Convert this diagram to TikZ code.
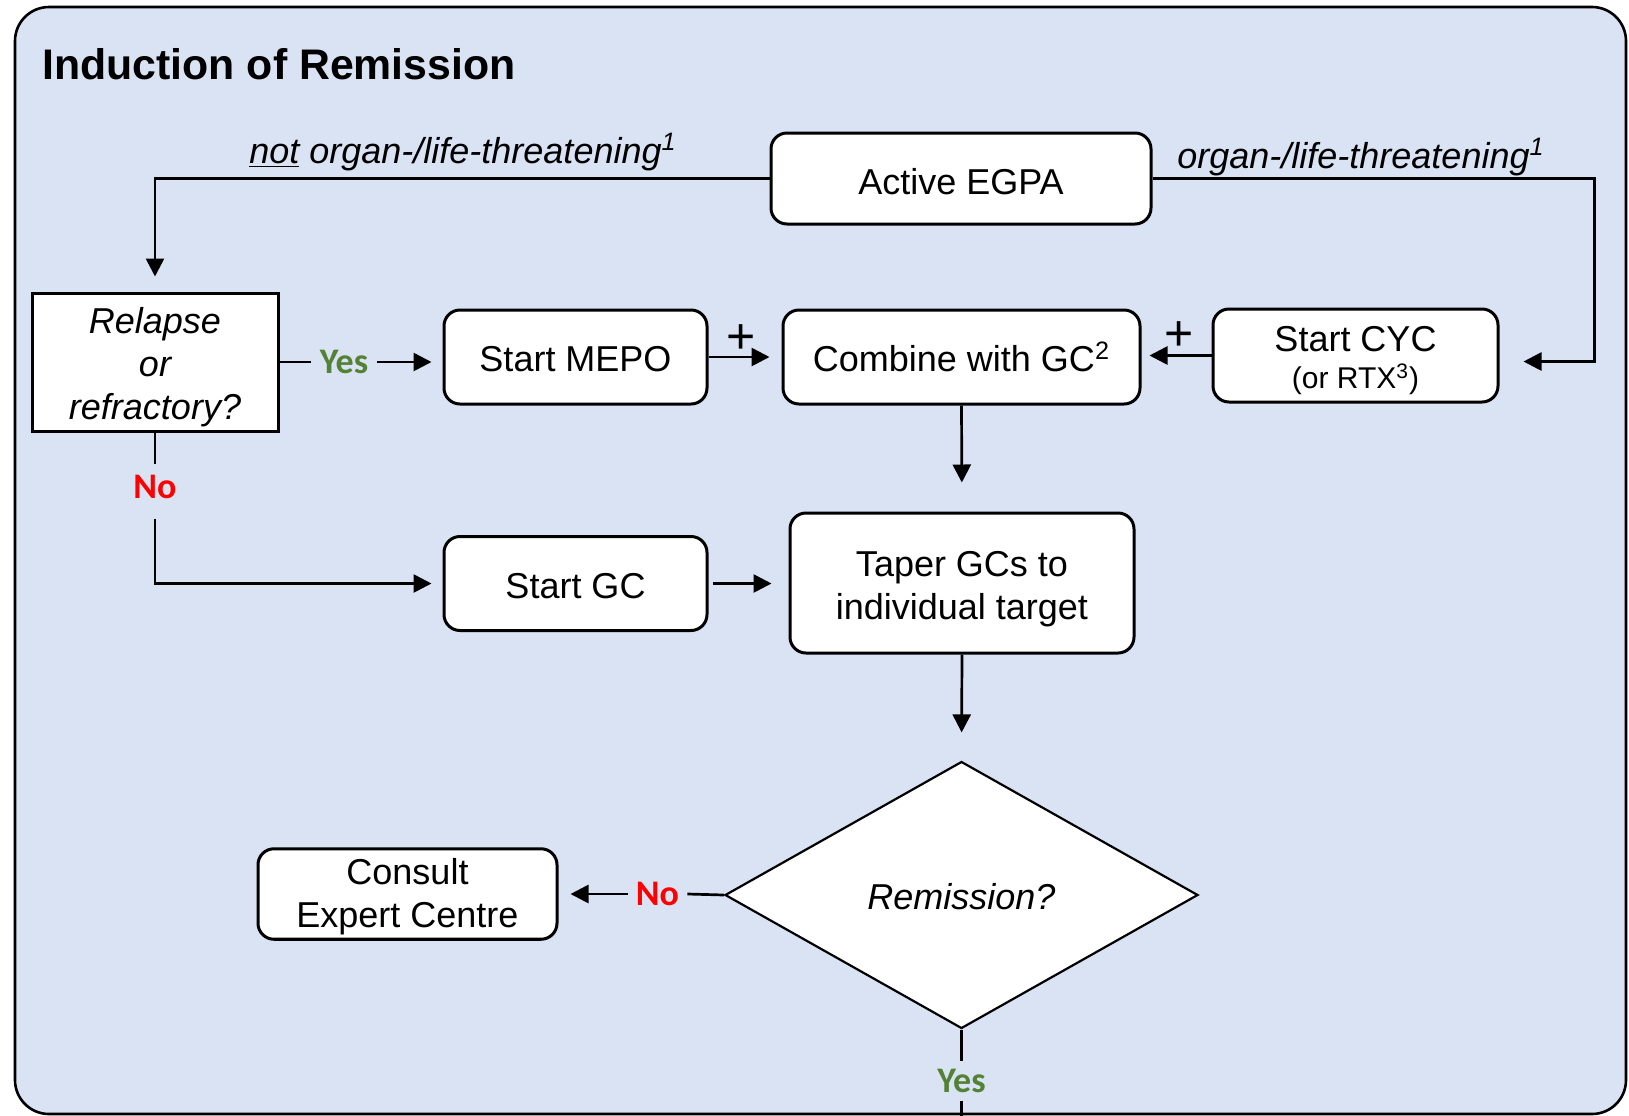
\documentclass[tikz,border=0pt]{standalone}
\usepackage{fontspec}
\setmainfont{Liberation Sans}
\newfontfamily\lblfont{Carlito}
\usetikzlibrary{arrows.meta,shapes.geometric,calc}
\definecolor{panelbg}{HTML}{DAE3F3}
\definecolor{yesgreen}{HTML}{548235}
\definecolor{nored}{HTML}{FF0000}
\newcommand\boxstrut[1]{\rule{0pt}{#1}}
\begin{document}
\begin{tikzpicture}[x=0.5pt,y=-0.5pt,
  box/.style={draw=black, line width=1.5pt, fill=white, rounded corners=8pt, align=center,
    font=\fontsize{18}{21.5}\selectfont, inner sep=2pt},
  conn/.style={line width=1.35pt, draw=black},
  arr/.style={conn, -{Triangle[length=9pt,width=9pt]}},
  yeslbl/.style={font=\lblfont\bfseries\fontsize{18}{21.5}\selectfont, text=yesgreen, inner sep=4pt},
  nolbl/.style={font=\lblfont\bfseries\fontsize{18}{21.5}\selectfont, text=nored, inner sep=4pt},
  cond/.style={font=\itshape\fontsize{18}{21.5}\selectfont, anchor=base, inner sep=0pt},
  plussign/.style={font=\fontsize{25}{25}\selectfont, inner sep=0pt}
]
\useasboundingbox (0,0) rectangle (1629,1115);
\draw[line width=1.3pt, fill=panelbg, rounded corners=17pt] (15,7) rectangle (1626,1114);

\node[anchor=base west, inner sep=0pt, font=\bfseries\fontsize{21.4}{25}\selectfont] (title) at (42,79) {Induction of Remission};

% nodes
\node[box, minimum width=190pt, minimum height=45.5pt] (egpa) at (961,178.5) {\boxstrut{16pt}Active EGPA};
\node[box, rounded corners=0pt, minimum width=123pt, minimum height=69pt,
  font=\fontsize{18}{21.5}\selectfont\itshape] (relapse) at (155,362) {\boxstrut{18pt}Relapse\\or\\refractory?};
\node[box, minimum width=131.5pt, minimum height=47pt] (mepo) at (575.5,357) {\boxstrut{15pt}Start MEPO};
\node[box, minimum width=178.5pt, minimum height=47pt] (combine) at (961.5,357) {Combine with GC\textsuperscript{2}};
\node[box, minimum width=142.5pt, minimum height=46.5pt] (cyc) at (1355.5,355.5)
  {\boxstrut{18pt}Start CYC\\[-3pt]{\fontsize{15}{17}\selectfont (or RTX\textsuperscript{3})}};
\node[box, minimum width=131.5pt, minimum height=47pt] (startgc) at (575.5,583.5) {\boxstrut{15pt}Start GC};
\node[box, minimum width=172pt, minimum height=70pt] (taper) at (962,583) {\boxstrut{19pt}Taper GCs to\\individual target};
\node[draw=black, line width=1.1pt, fill=white, diamond, minimum width=236.5pt, minimum height=133.5pt,
  inner sep=0pt, font=\fontsize{18}{21.5}\selectfont\itshape] (remission) at (961.5,895) {\boxstrut{15pt}Remission?};
\node[box, minimum width=149.5pt, minimum height=44pt] (consult) at (407.5,894) {\boxstrut{16pt}Consult\\Expert Centre};

% condition labels
\node[cond] (lblnot) at (463,163) {\underline{not} organ-/life-threatening\textsuperscript{1}};
\node[cond] (lblorg) at (1361,168) {organ-/life-threatening\textsuperscript{1}};

% yes / no labels
\node[yeslbl] (yes1) at (344,362) {Yes};
\node[nolbl, inner ysep=5pt] (no1) at (155,486.5) {No};
\node[nolbl] (no2) at (657.5,894) {No};
\node[yeslbl] (yes2) at (961.5,1081) {Yes};
\coordinate (exitpt) at (961.5,1116);

% plus signs
\node[plussign] (plus1) at (741,339) {+};
\node[plussign] (plus2) at (1179,336) {+};

% connectors
\draw[arr] (egpa.west) -| ([yshift=7.5pt]relapse.north);
\draw[arr] (egpa.east) -- ++(442,0) |- ([xshift=12pt,yshift=-3pt]cyc.east);
\draw[conn] (relapse.east) -- (yes1.west);
\draw[arr, shorten >=5.5pt] (yes1.east) -- (yes1.east -| mepo.west);
\draw[arr, shorten >=6pt] (mepo.east) -- (combine.west);
\draw[arr, shorten >=4pt] (cyc.west) -- (cyc.west -| combine.east);
\draw[arr, shorten >=14.5pt] (combine.south) -- (taper.north);
\draw[conn] (relapse.south) -- (no1.north);
\draw[arr, shorten >=5.5pt] ([yshift=-5pt]no1.south) |- (startgc.west);
\draw[arr, shorten >=8.5pt, shorten <=2pt] (startgc.east) -- (startgc.east -| taper.west);
\draw[arr, shorten >=14pt] (taper.south) -- (remission.north);
\draw[conn] (remission.west) -- (no2.east);
\draw[arr, shorten >=6pt] (no2.west) -- (no2.west -| consult.east);
\draw[conn] (remission.south) -- (yes2.north);
\draw[conn] (yes2.south) -- (exitpt);
\end{tikzpicture}
\end{document}
